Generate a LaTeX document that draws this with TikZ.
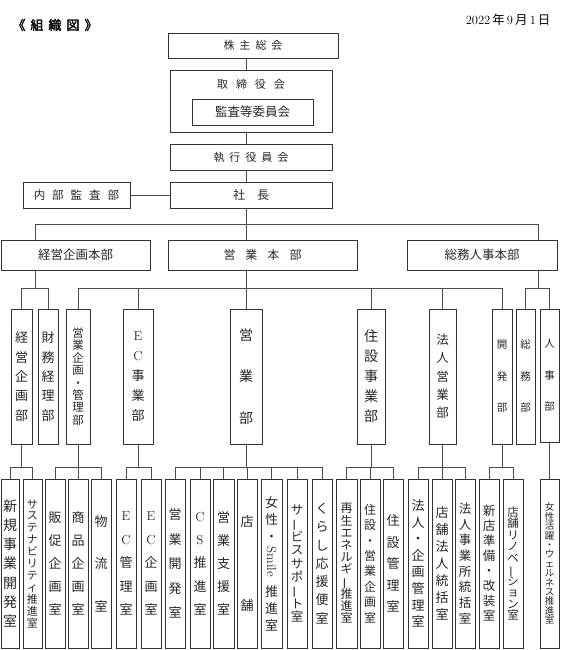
\documentclass[tikz,border=0pt]{standalone}
\usepackage{fontspec}
\newfontfamily\cjk{Noto Sans CJK JP}
\newfontfamily\cjkbf[FakeBold=2]{Noto Sans CJK JP}
\usetikzlibrary{positioning}

% vertical text: size / pitch
\newcommand{\vf}[2]{\cjk\fontsize{#1}{#2}\selectfont\lineskiplimit=-10pt}
\newcommand{\gp}[1]{\hspace{#1pt}}
\newcommand{\lat}[1]{{\rmfamily #1}}
\newcommand{\chouon}{\rotatebox[origin=c]{90}{ー}}

\tikzset{
  box/.style={draw=black!80, line width=0.7pt, inner sep=0pt, text=black!85, align=center},
  hbox/.style={box, minimum height=26pt},
  midbox/.style={box, minimum height=135pt},
  lowbox/.style={box, minimum height=169pt, minimum width=20pt},
  line/.style={draw=black!70, line width=0.7pt},
}

\begin{document}
\begin{tikzpicture}[x=1pt, y=-1pt]
\useasboundingbox (0,0) rectangle (560,650);

\node[font=\cjkbf\fontsize{13}{15}\selectfont] (title) at (55,25) {《\gp{5}組\gp{5}織\gp{5}図\gp{5}》};
\node[anchor=east, font=\fontsize{12.5}{14}\selectfont] (date) at (554,20) {2022\,{\cjk 年}\,9\,{\cjk 月}\,1\,{\cjk 日}};

% top
\node[hbox, minimum width=170pt, minimum height=25pt, font=\vf{11}{13}] (kabu) at (253,45.5) {株\gp{5}主\gp{5}総\gp{5}会};
\node[box, minimum width=162pt, minimum height=62pt,
  label={[font=\vf{11}{13}, text=black!85, anchor=center, yshift=-15pt]north:取\gp{8}締\gp{8}役\gp{8}会}] (tori) at (251,101) {};
\node[hbox, minimum width=121pt, font=\vf{12.5}{14}] (kansa) at (252.5,112) {監査等委員会};
\node[hbox, minimum width=162pt, font=\vf{11}{13}] (shikko) at (251,157) {執\gp{5}行\gp{5}役\gp{5}員\gp{5}会};
\node[hbox, minimum width=162pt, font=\vf{12}{14}] (shacho) at (251,195) {社\gp{12}長};
\node[hbox, minimum width=107pt, font=\vf{11.5}{13}] (naibu) at (76.5,195) {内\gp{7}部\gp{7}監\gp{7}査\gp{7}部};

\node[box, minimum width=149pt, minimum height=30pt, font=\vf{12.5}{14}] (keihon) at (75.5,255) {経営企画本部};
\node[box, minimum width=189pt, minimum height=30pt, font=\vf{12}{14}] (eihon) at (262.5,255) {営\gp{10}業\gp{10}本\gp{10}部};
\node[box, minimum width=150pt, minimum height=30pt, font=\vf{12.5}{14}] (somuhon) at (482,255) {総務人事本部};

% middle row
\node[midbox, minimum width=21pt, font=\vf{13}{19.3}] (keikaku) at (21.5,376.5) {経\\営\\企\\画\\部};
\node[midbox, minimum width=20pt, font=\vf{13}{19.3}] (zaimu) at (48,376.5) {財\\務\\経\\理\\部};
\node[midbox, minimum width=24pt, font=\vf{11.5}{12.4}] (eikikaku) at (78,376.5) {営\\業\\企\\画\\・\\管\\理\\部};
\node[midbox, minimum width=30pt, font=\vf{13}{20}] (ecjigyo) at (138,376.5) {\lat{E}\\\lat{C}\\事\\業\\部};
\node[midbox, minimum width=32pt, font=\vf{14}{41.5}] (eigyo) at (246,376.5) {営\\業\\部};
\node[midbox, minimum width=28pt, font=\vf{14}{20}] (jusetsu) at (371,376.5) {住\\設\\事\\業\\部};
\node[midbox, minimum width=27pt, font=\vf{12.5}{18.3}] (hojin) at (442.5,376.5) {法\\人\\営\\業\\部};
\node[midbox, minimum width=20pt, font=\vf{10.5}{31.5}] (kaihatsu) at (502,376.5) {開\\発\\部};
\node[midbox, minimum width=19pt, font=\vf{10.5}{31.5}] (somu) at (525.5,376.5) {総\\務\\部};
\node[midbox, minimum width=19pt, minimum height=133pt, font=\vf{10.5}{31.5}] (jinji) at (549.5,375.5) {人\\事\\部};

% bottom row
\node[lowbox, minimum width=18pt, font=\vf{14}{19.2}] (shinki) at (10,563.5) {新\\規\\事\\業\\開\\発\\室};
\node[lowbox, minimum width=19pt, font=\vf{11}{11.9}] (susute) at (32.5,563.5) {サ\\ス\\テ\\ナ\\ビ\\リ\\テ\\ィ\\推\\進\\室};
\node[lowbox, font=\vf{13}{23}] (hansoku) at (55,563.5) {販\\促\\企\\画\\室};
\node[lowbox, font=\vf{13}{23}] (shohin) at (78,563.5) {商\\品\\企\\画\\室};
\node[lowbox, font=\vf{13}{42.5}] (butsuryu) at (101,563.5) {物\\流\\室};
\node[lowbox, font=\vf{13}{23.5}] (eckanri) at (126,563.5) {\lat{E}\\\lat{C}\\管\\理\\室};
\node[lowbox, font=\vf{13}{23.5}] (eckikaku) at (151,563.5) {\lat{E}\\\lat{C}\\企\\画\\室};
\node[lowbox, font=\vf{13}{24.5}] (eikaihatsu) at (175,563.5) {営\\業\\開\\発\\室};
\node[lowbox, font=\vf{13}{23.3}] (cs) at (200,563.5) {\lat{C}\\\lat{S}\\推\\進\\室};
\node[lowbox, minimum width=21pt, font=\vf{13}{23}] (shien) at (223.5,563.5) {営\\業\\支\\援\\室};
\node[lowbox, font=\vf{13}{84}] (tenpo) at (247,563.5) {店\\舗};
\node[lowbox, minimum width=21pt, font=\vf{13}{17}] (smile) at (271.5,563.5) {女\\性\\・\\[8pt]\rotatebox[origin=c]{-90}{\lat{Smile}}\\[13pt]推\\進\\室};
\node[lowbox, font=\vf{12.5}{13.4}] (service) at (297,563.5) {サ\\\chouon\\ビ\\ス\\サ\\ポ\\\chouon\\ト\\室};
\node[lowbox, font=\vf{13}{18.3}] (kurashi) at (322,563.5) {く\\ら\\し\\応\\援\\便\\室};
\node[lowbox, minimum width=21pt, font=\vf{12}{12.2}] (saisei) at (346.5,563.5) {再\\生\\エ\\ネ\\ル\\ギ\\\chouon\\推\\進\\室};
\node[lowbox, font=\vf{12}{15.4}] (jueikikaku) at (370,563.5) {住\\設\\・\\営\\業\\企\\画\\室};
\node[lowbox, font=\vf{13}{21.5}] (jukanri) at (393,563.5) {住\\設\\管\\理\\室};
\node[lowbox, font=\vf{13}{16.6}] (hokikaku) at (418,563.5) {法\\人\\・\\企\\画\\管\\理\\室};
\node[lowbox, font=\vf{13}{17}] (tenhojin) at (442,563.5) {店\\舗\\法\\人\\統\\括\\室};
\node[lowbox, font=\vf{12.5}{15.7}] (hojigyo) at (465,563.5) {法\\人\\事\\業\\所\\統\\括\\室};
\node[lowbox, font=\vf{12.5}{15}] (shinten) at (489,563.5) {新\\店\\準\\備\\・\\改\\装\\室};
\node[lowbox, font=\vf{11.5}{11.5}] (renov) at (513,563.5) {店\\舗\\リ\\ノ\\ベ\\\chouon\\シ\\ョ\\ン\\室};
\node[lowbox, minimum width=19pt, font=\vf{9.5}{9.4}] (wellness) at (549.5,563.5) {女\\性\\活\\躍\\・\\ウ\\ェ\\ル\\ネ\\ス\\推\\進\\室};

% connectors
\coordinate (spine) at (246,0);
\coordinate (kx) at (35,0);
\coordinate (sx) at (538,0);
\coordinate (bus0) at (0,224);
\coordinate (bus1) at (0,288.5);
\coordinate (bus2) at (0,467);

\draw[line] (spine |- kabu.south) -- (spine |- tori.north);
\draw[line] (spine |- tori.south) -- (spine |- shikko.north);
\draw[line] (spine |- shikko.south) -- (spine |- shacho.north);
\draw[line] (naibu) -- (shacho);
\draw[line] (spine |- shacho.south) -- (spine |- bus0);
\draw[line] (kx |- keihon.north) -- (kx |- bus0) -- (sx |- bus0) -- (sx |- somuhon.north);
\draw[line] (spine |- bus0) -- (spine |- eihon.north);

\draw[line] (kx |- keihon.south) -- (kx |- bus1);
\draw[line] (keikaku.north) -- (keikaku.north |- bus1) -- (zaimu.north |- bus1) -- (zaimu.north);
\draw[line] (eikikaku.north) -- (eikikaku.north |- bus1) -- (kaihatsu.north |- bus1) -- (kaihatsu.north);
\draw[line] (spine |- eihon.south) -- (eigyo.north);
\foreach \n in {ecjigyo, jusetsu, hojin}
  \draw[line] (\n.north) -- (\n.north |- bus1);
\draw[line] (sx |- somuhon.south) -- (sx |- bus1);
\draw[line] (somu.north) -- (somu.north |- bus1) -- (jinji.north |- bus1) -- (jinji.north);

\foreach \p/\a/\b in {keikaku/shinki/susute, eikikaku/hansoku/butsuryu, ecjigyo/eckanri/eckikaku,
    eigyo/eikaihatsu/kurashi, jusetsu/saisei/jukanri, hojin/hokikaku/hojigyo, kaihatsu/shinten/renov} {
  \draw[line] (\p.south) -- (\p.south |- bus2);
  \draw[line] (\a.north) -- (\a.north |- bus2) -- (\b.north |- bus2) -- (\b.north);
}
\foreach \n in {shohin, cs, shien, tenpo, smile, service, jueikikaku, tenhojin}
  \draw[line] (\n.north) -- (\n.north |- bus2);
\draw[line] (jinji.south) -- (wellness.north);
\end{tikzpicture}
\end{document}
